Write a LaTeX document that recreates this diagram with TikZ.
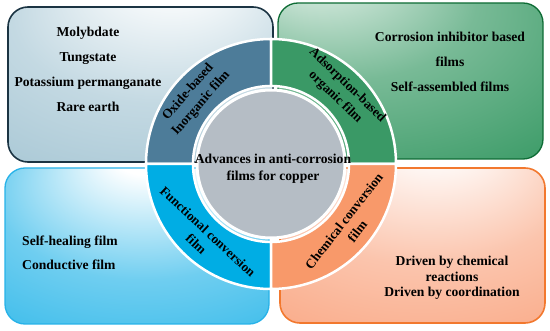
\documentclass[tikz,border=0pt]{standalone}
\usepackage{fontspec}
\setmainfont{Liberation Serif}
\usetikzlibrary{arrows.meta}

\definecolor{oxidebox}{HTML}{93BACB}
\definecolor{oxideline}{HTML}{1B3443}
\definecolor{oxidering}{HTML}{4D7C99}
\definecolor{adsorbbox}{HTML}{0A8241}
\definecolor{adsorbline}{HTML}{0E6C35}
\definecolor{adsorbring}{HTML}{3A9966}
\definecolor{funcbox}{HTML}{0FADE6}
\definecolor{funcline}{HTML}{27B2E8}
\definecolor{funcring}{HTML}{00ADE4}
\definecolor{chembox}{HTML}{F8956A}
\definecolor{chemline}{HTML}{F2782E}
\definecolor{chemring}{HTML}{F8996A}
\definecolor{corefill}{HTML}{B5BDC5}

\pgfdeclareradialshading{oxideshade}{\pgfpoint{7bp}{40bp}}{color(0bp)=(white);color(5bp)=(white);color(28bp)=(white!45!oxidebox);color(62bp)=(oxidebox)}
\pgfdeclareradialshading{adsorbshade}{\pgfpoint{-20bp}{40bp}}{color(0bp)=(white!88!adsorbbox);color(5bp)=(white!85!adsorbbox);color(25bp)=(white!45!adsorbbox);color(68bp)=(adsorbbox)}
\pgfdeclareradialshading{funcshade}{\pgfpoint{2bp}{32bp}}{color(0bp)=(white);color(6bp)=(white);color(28bp)=(white!40!funcbox);color(60bp)=(funcbox)}
\pgfdeclareradialshading{chemshade}{\pgfpoint{5bp}{40bp}}{color(0bp)=(white);color(6bp)=(white);color(28bp)=(white!45!chembox);color(62bp)=(chembox)}

\tikzset{
  boxtext/.style={font=\bfseries\fontsize{13.6}{25}\selectfont, align=center, inner sep=0pt},
  ringtext/.style={font=\bfseries\fontsize{13.2}{17}\selectfont, align=center, inner sep=0pt},
  sector/.style={draw=white, line width=2.5pt}
}

\begin{document}
\begin{tikzpicture}[x=1pt, y=1pt]
\useasboundingbox (0,0) rectangle (550,330);
\coordinate (C) at (271,166);
\draw[shading=oxideshade, draw=oxideline, line width=1.6pt, rounded corners=20pt] (8,168) rectangle (273,323);
\draw[shading=adsorbshade, draw=adsorbline, line width=1.3pt, rounded corners=20pt] (278,171) rectangle (543,327);
\draw[shading=funcshade, draw=funcline, line width=1.3pt, rounded corners=20pt] (5,6) rectangle (269,162);
\draw[shading=chemshade, draw=chemline, line width=1.6pt, rounded corners=20pt] (280,7) rectangle (545,162);
\fill[oxidering, sector] ([shift={(180:78)}]C) -- ([shift={(180:125)}]C) arc[start angle=180, end angle=90, radius=125] -- ([shift={(90:78)}]C) arc[start angle=90, end angle=180, radius=78] -- cycle;
\fill[adsorbring, sector] ([shift={(90:78)}]C) -- ([shift={(90:125)}]C) arc[start angle=90, end angle=0, radius=125] -- ([shift={(0:78)}]C) arc[start angle=0, end angle=90, radius=78] -- cycle;
\fill[funcring, sector] ([shift={(270:78)}]C) -- ([shift={(270:125)}]C) arc[start angle=270, end angle=180, radius=125] -- ([shift={(180:78)}]C) arc[start angle=180, end angle=270, radius=78] -- cycle;
\fill[chemring, sector] ([shift={(360:78)}]C) -- ([shift={(360:125)}]C) arc[start angle=360, end angle=270, radius=125] -- ([shift={(270:78)}]C) arc[start angle=270, end angle=360, radius=78] -- cycle;
\fill[corefill, draw=white, line width=3pt] (C) circle (74);
\node[boxtext] (oxidelist) at (88,260.5) {Molybdate\\Tungstate\\Potassium permanganate\\Rare earth};
\node[boxtext] (adsorblist) at (450,268) {Corrosion inhibitor based\\films\\Self-assembled films};
\node[boxtext, align=left, anchor=west, font=\bfseries\fontsize{13.6}{24}\selectfont] (funclist) at (22,77) {Self-healing film\\Conductive film};
\node[boxtext, font=\bfseries\fontsize{13.6}{15.5}\selectfont] (chemlist) at (452,52) {Driven by chemical\\reactions\\Driven by coordination};
\node[boxtext, font=\bfseries\fontsize{13.6}{17}\selectfont] (core) at (273,161.5) {Advances in anti-corrosion\\films for copper};
\node[ringtext, rotate=49] (oxide) at ([shift={(139:101)}]C) {Oxide-based\\Inorganic film};
\node[ringtext, rotate=-44] (adsorb) at ([shift={(46:101)}]C) {Adsorption-based\\organic film};
\node[ringtext, rotate=-43] (func) at ([shift={(227:101)}]C) {Functional conversion\\film};
\node[ringtext, rotate=52] (chem) at ([shift={(-38:101)}]C) {Chemical conversion\\film};
\end{tikzpicture}
\end{document}
